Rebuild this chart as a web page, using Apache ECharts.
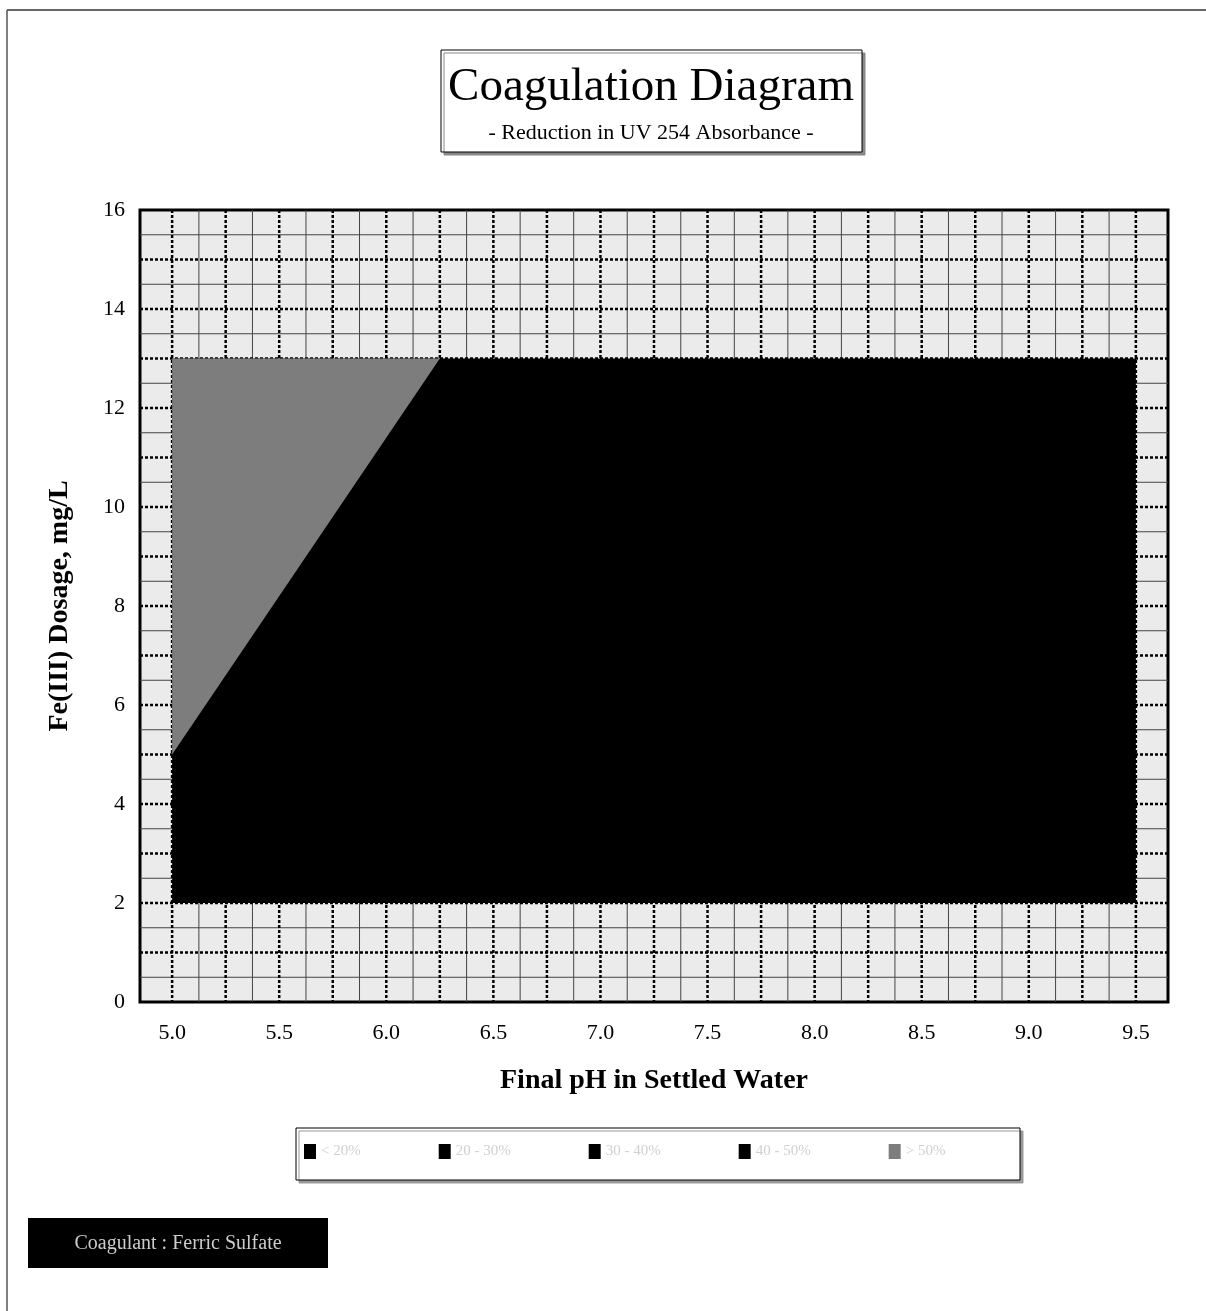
<!DOCTYPE html>
<html><head><meta charset="utf-8">
<script src="https://cdn.jsdelivr.net/npm/echarts@6/dist/echarts.min.js"></script>
<style>html,body{margin:0;padding:0;background:#fff}#c{width:1206px;height:1311px}</style>
</head><body><div id="c"></div>
<script>
// ---- data ----
const legendNames = ['< 20%', '20 - 30%', '30 - 40%', '40 - 50%', '> 50%'];
const xTickLabels = [5.0, 5.5, 6.0, 6.5, 7.0, 7.5, 8.0, 8.5, 9.0, 9.5];
// black region (pH, dose) polygon
const blackPH = [5.0, 5.0, 9.5, 9.5];
const blackDose = [2, 13, 13, 2];
// gray hatched region polygon
const grayPH = [5.0, 5.0, 6.25];
const grayDose = [5, 13, 13];
// grid lines
const heavyX = [5.0,5.25,5.5,5.75,6.0,6.25,6.5,6.75,7.0,7.25,7.5,7.75,8.0,8.25,8.5,8.75,9.0,9.25,9.5];
const thinX = [5.125,5.375,5.625,5.875,6.125,6.375,6.625,6.875,7.125,7.375,7.625,7.875,8.125,8.375,8.625,8.875,9.125,9.375];
const heavyY = [1,2,3,4,5,6,7,8,9,10,11,12,13,14,15];
const thinY = [0.5,1.5,2.5,3.5,4.5,5.5,6.5,7.5,8.5,9.5,10.5,11.5,12.5,13.5,14.5,15.5];

const serif = '"Liberation Serif","DejaVu Serif",serif';
const chart = echarts.init(document.getElementById('c'));

function polySeries(name, xs, ys, color) {
  const pts = xs.map((x, i) => [x, ys[i]]);
  return {
    type: 'custom', name: name, data: pts, z: 5,
    itemStyle: { color: color },
    renderItem: function (params, api) {
      if (params.dataIndex !== 0) return null;
      return { type: 'polygon', shape: { points: pts.map(p => api.coord(p)) },
               style: { fill: color } };
    }
  };
}
function gridSeries(vals, dir, style) {
  return {
    type: 'custom', silent: true, z: 2, data: vals.map(v => [v]),
    renderItem: function (params, api) {
      const cs = params.coordSys;
      const v = api.value(0);
      let shape;
      if (dir === 'v') { const px = api.coord([v, 0])[0]; shape = { x1: px, y1: cs.y, x2: px, y2: cs.y + cs.height }; }
      else { const py = api.coord([5, v])[1]; shape = { x1: cs.x, y1: py, x2: cs.x + cs.width, y2: py }; }
      return { type: 'line', shape: shape, style: style };
    }
  };
}
const heavyStyle = { stroke: '#000', lineWidth: 2.5, lineDash: [3, 2] };
const thinStyle = { stroke: '#444', lineWidth: 1 };
const grayFill = '#7d7d7d';

const option = {
  backgroundColor: '#fff',
  animation: false,
  grid: { left: 140, top: 210, right: 38, bottom: 309, show: true, borderColor: '#000', borderWidth: 3, backgroundColor: '#ebebeb' },
  xAxis: {
    type: 'value', min: 4.85, max: 9.65,
    axisLine: { show: false }, axisTick: { show: false }, splitLine: { show: false },
    axisLabel: { customValues: xTickLabels, formatter: v => v.toFixed(1), color: '#000', fontFamily: serif, fontSize: 22, margin: 20 },
    name: 'Final pH in Settled Water', nameLocation: 'middle', nameGap: 65,
    nameTextStyle: { fontFamily: serif, fontSize: 28, fontWeight: 'bold', color: '#000' }
  },
  yAxis: {
    type: 'value', min: 0, max: 16, interval: 2,
    axisLine: { show: false }, axisTick: { show: false }, splitLine: { show: false },
    axisLabel: { color: '#000', fontFamily: serif, fontSize: 22, margin: 15 },
    name: 'Fe(III) Dosage, mg/L', nameLocation: 'middle', nameGap: 66,
    nameTextStyle: { fontFamily: serif, fontSize: 28, fontWeight: 'bold', color: '#000' }
  },
  legend: {
    data: legendNames.map((n, i) => ({ name: n, icon: 'rect', itemStyle: { color: i === 4 ? grayFill : '#000' } })),
    left: 304, top: 1144, padding: 0,
    itemWidth: 12, itemHeight: 15, itemGap: 78,
    selectedMode: false,
    textStyle: { color: '#d0d0d0', fontFamily: serif, fontSize: 15 }
  },
  series: [
    gridSeries(thinX, 'v', thinStyle),
    gridSeries(thinY, 'h', thinStyle),
    gridSeries(heavyX, 'v', heavyStyle),
    gridSeries(heavyY, 'h', heavyStyle),
    polySeries('< 20%', [], [], '#000'),
    polySeries('20 - 30%', [], [], '#000'),
    polySeries('30 - 40%', [], [], '#000'),
    polySeries('40 - 50%', blackPH, blackDose, '#000'),
    polySeries('> 50%', grayPH, grayDose, grayFill)
  ],
  graphic: [
    { type: 'line', shape: { x1: 7, y1: 10, x2: 1206, y2: 10 }, style: { stroke: '#333', lineWidth: 1.5 } },
    { type: 'line', shape: { x1: 7, y1: 10, x2: 7, y2: 1311 }, style: { stroke: '#555', lineWidth: 1.5 } },
    { type: 'rect', z: -1, shape: { x: 296, y: 1128, width: 724, height: 52 },
      style: { fill: '#fff', stroke: '#000', lineWidth: 1, shadowColor: '#999', shadowOffsetX: 3, shadowOffsetY: 3 } },
    { type: 'rect', shape: { x: 441, y: 50, width: 421, height: 102 },
      style: { fill: '#fff', stroke: '#000', lineWidth: 1, shadowColor: '#888', shadowOffsetX: 3, shadowOffsetY: 3 } },
    { type: 'text', x: 651, y: 88, style: { text: 'Coagulation Diagram', fontFamily: serif, fontSize: 47, fill: '#000', textAlign: 'center', textVerticalAlign: 'middle' } },
    { type: 'text', x: 651, y: 133, style: { text: '- Reduction in UV 254 Absorbance -', fontFamily: serif, fontSize: 22, fill: '#000', textAlign: 'center', textVerticalAlign: 'middle' } },
    { type: 'rect', shape: { x: 28, y: 1218, width: 300, height: 50 }, style: { fill: '#000' } },
    { type: 'text', x: 178, y: 1244, style: { text: 'Coagulant : Ferric Sulfate', fontFamily: serif, fontSize: 20, fill: '#ccc', textAlign: 'center', textVerticalAlign: 'middle' } }
  ]
};
chart.setOption(option);
</script></body></html>
